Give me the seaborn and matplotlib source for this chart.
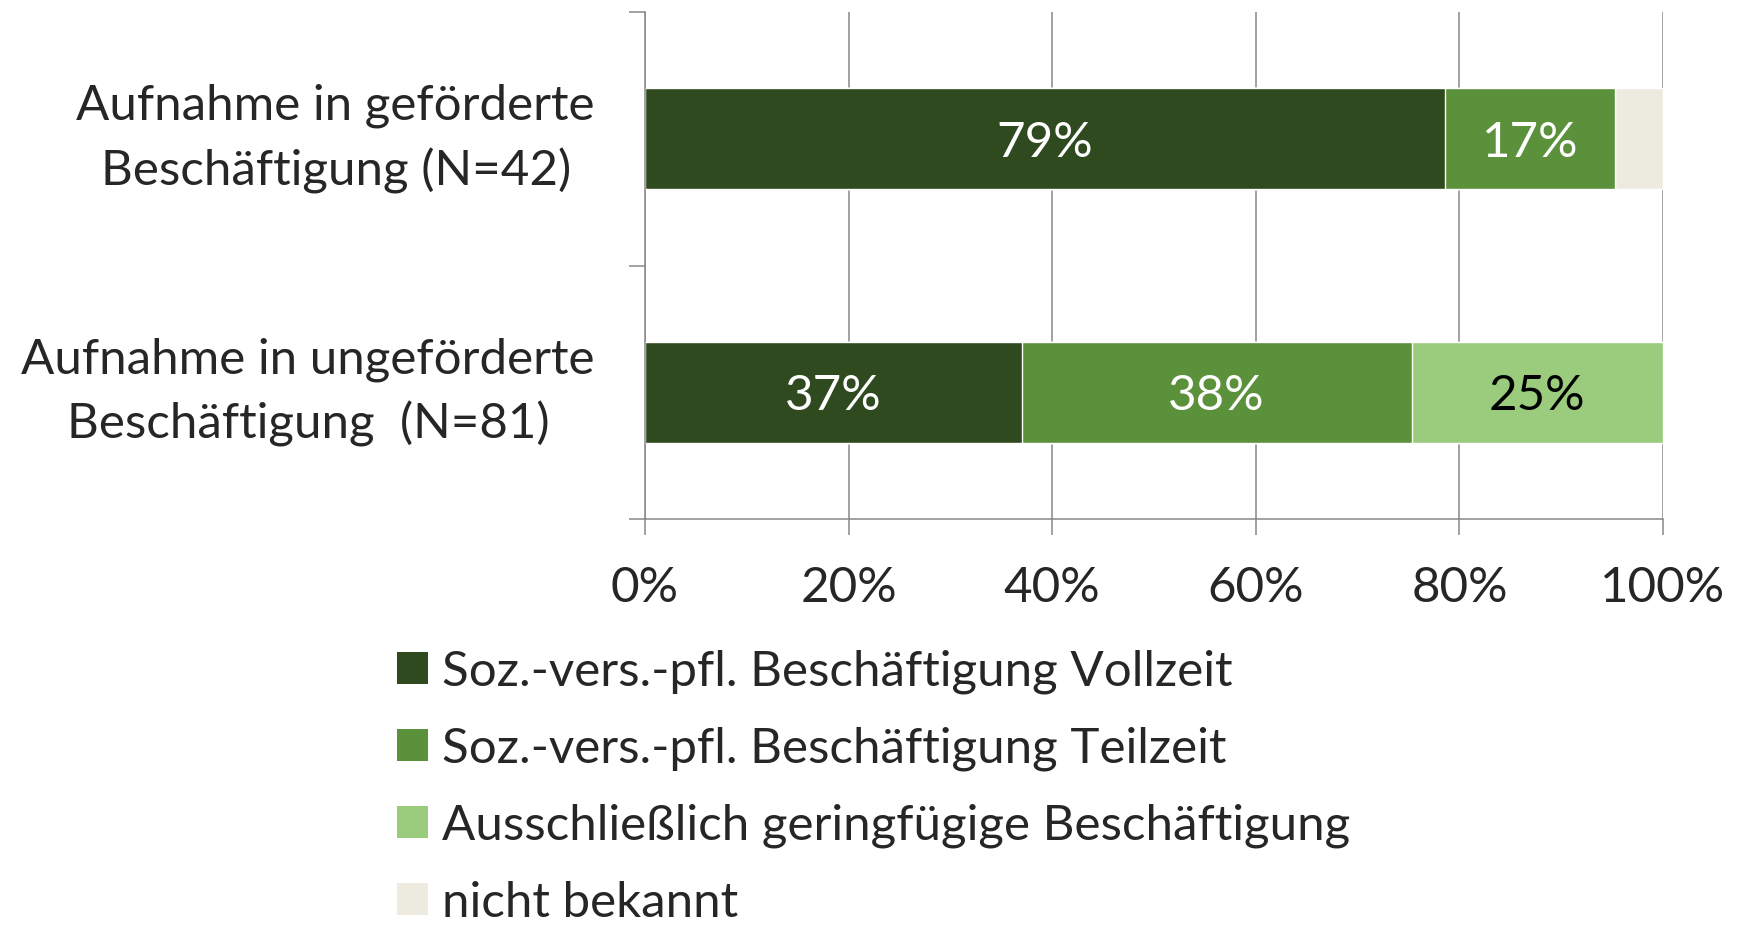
import numpy as np
import pandas as pd
import matplotlib
matplotlib.use("Agg")
import matplotlib.pyplot as plt
from matplotlib.patches import Patch
from matplotlib.ticker import FixedLocator
import seaborn as sns

# --- data (percent of each group) ---
categories = ["Aufnahme in geförderte\nBeschäftigung (N=42)",
              "Aufnahme in ungeförderte\nBeschäftigung  (N=81)"]
series_names = ["Soz.-vers.-pfl. Beschäftigung Vollzeit",
                "Soz.-vers.-pfl. Beschäftigung Teilzeit",
                "Ausschließlich geringfügige Beschäftigung",
                "nicht bekannt"]
vollzeit = [78.6, 37.0]
teilzeit = [16.7, 38.3]
geringfuegig = [0.0, 24.7]
unbekannt = [4.7, 0.0]
tick_values = [0, 20, 40, 60, 80, 100]
tick_labels = ["0%", "20%", "40%", "60%", "80%", "100%"]

colors = ["#2f4a1f", "#5c913b", "#9bcb7d", "#edebe0"]
label_colors = ["white", "white", "black", None]
grid_col = "#878787"
fs = 35.5

sns.set_style("white")
plt.rcParams["font.family"] = ["Lato", "DejaVu Sans"]

df = pd.DataFrame({"Kategorie": categories,
                   series_names[0]: vollzeit,
                   series_names[1]: teilzeit,
                   series_names[2]: geringfuegig,
                   series_names[3]: unbekannt})
cum = df[series_names].cumsum(axis=1)
starts = cum - df[series_names]

fig = plt.figure(figsize=(17.37, 9.30), dpi=100)
ax = fig.add_axes([0.3713, 0.4419, 0.5861, 0.5452])

# stacked bars: draw cumulative totals from the back to the front
for k in reversed(range(len(series_names))):
    sns.barplot(x=cum[series_names[k]], y=df["Kategorie"], orient="h",
                color=colors[k], saturation=1, width=0.4,
                edgecolor="white", linewidth=1, ax=ax)

# value labels
for k in range(3):
    for i in range(len(categories)):
        v = df[series_names[k]].iloc[i]
        if v > 0:
            ax.text(starts[series_names[k]].iloc[i] + v / 2, i, f"{v:.0f}%",
                    ha="center", va="center_baseline", fontsize=fs,
                    color=label_colors[k])

ax.set_xlim(0, 100)
ax.set_ylim(1.5, -0.5)
ax.set_xticks(tick_values)
ax.set_xticklabels(tick_labels)
ax.set_yticks([0, 1])
ax.set_yticklabels(categories)
for t in ax.get_yticklabels():
    t.set_multialignment("center")
    t.set_linespacing(1.52)
    t.set_verticalalignment("center")
ax.yaxis.set_minor_locator(FixedLocator([-0.5, 0.5, 1.5]))
ax.set_xlabel("")
ax.set_ylabel("")

ax.tick_params(axis="y", which="major", length=0, pad=36, labelsize=fs)
ax.tick_params(axis="y", which="minor", left=True, length=11.5, width=1.1, color=grid_col)
ax.tick_params(axis="x", which="major", bottom=True, length=11.5, width=1.1,
               color=grid_col, pad=22, labelsize=fs)

ax.xaxis.grid(True, color=grid_col, linewidth=1.1)
ax.set_axisbelow(True)
sns.despine(ax=ax, top=True, right=True)
for s in ["left", "bottom"]:
    ax.spines[s].set_color(grid_col)
    ax.spines[s].set_linewidth(1.1)

handles = [Patch(facecolor=c, edgecolor="none") for c in colors]
fig.legend(handles, series_names, loc="upper left", bbox_to_anchor=(0.2286, 0.3015),
           frameon=False, fontsize=fs, borderpad=0, borderaxespad=0,
           handlelength=0.62, handleheight=0.62, handletextpad=0.29,
           labelspacing=0.66)

fig.savefig("out.png", dpi=100)
